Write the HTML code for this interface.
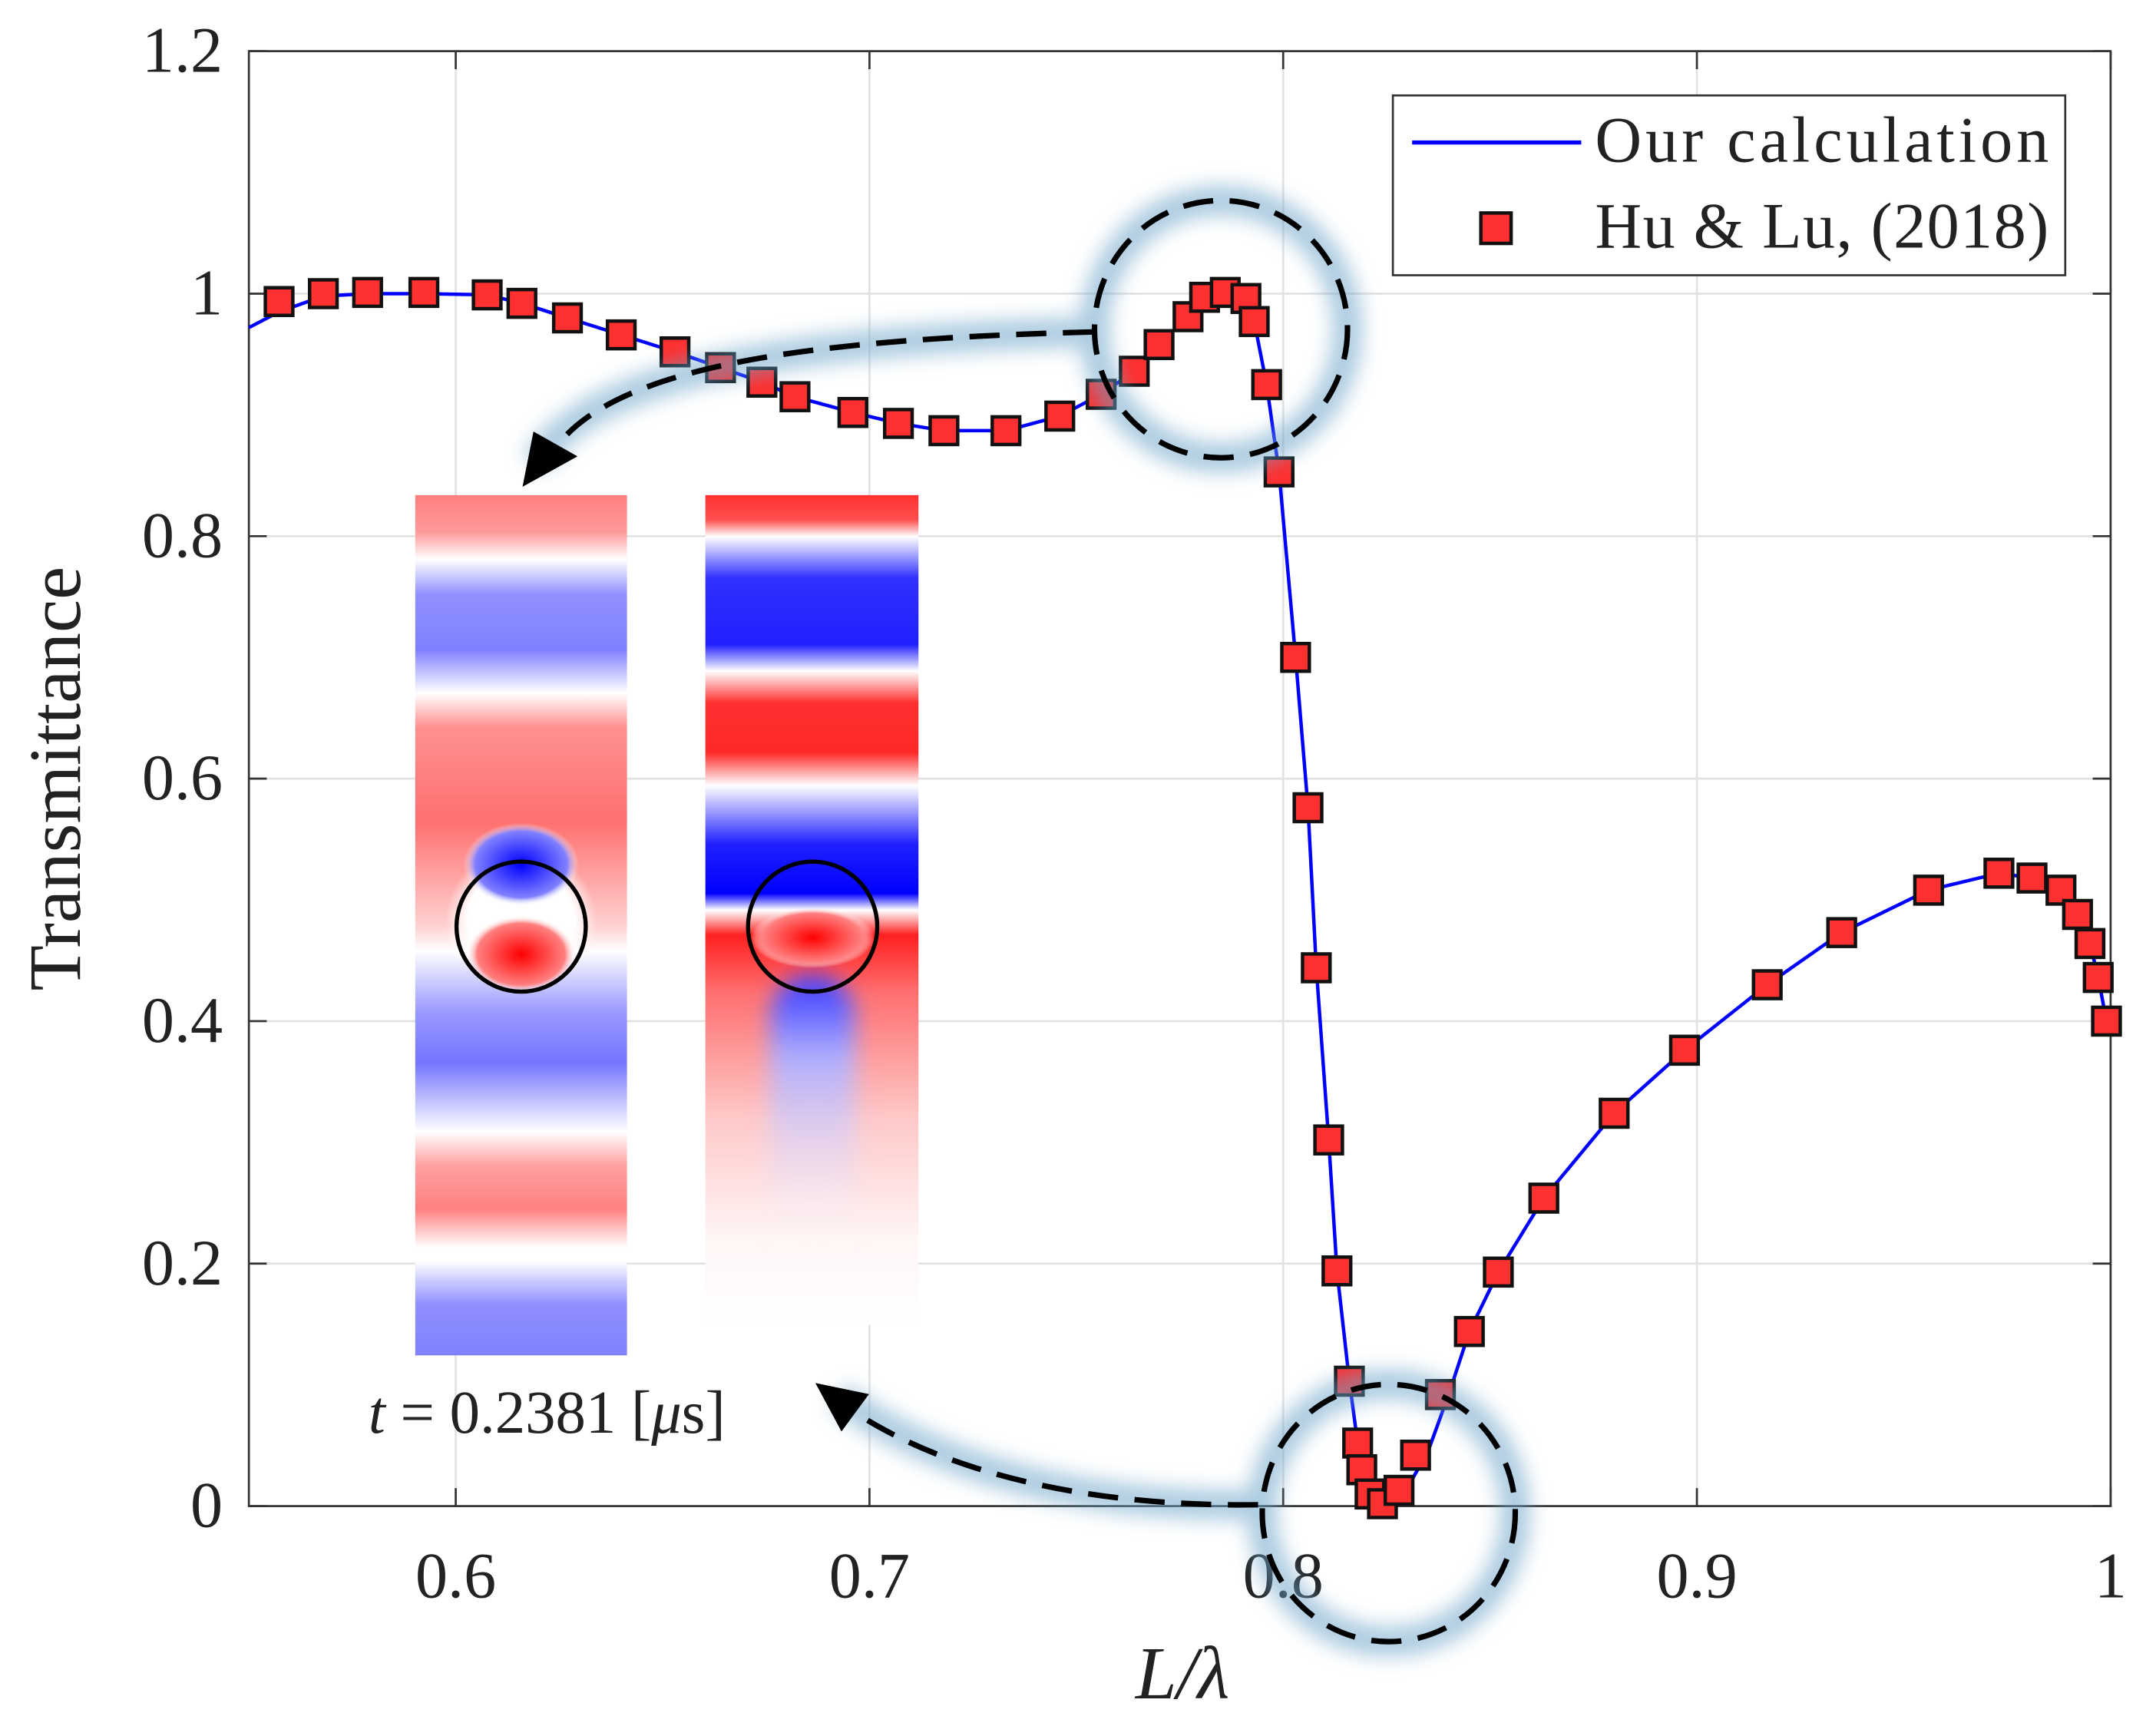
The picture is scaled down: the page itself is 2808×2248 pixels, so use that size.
<!DOCTYPE html>
<html><head><meta charset="utf-8"><style>
html,body{margin:0;padding:0;background:#fff;}
svg{display:block;}
text{font-family:"Liberation Serif",serif;fill:#222;}
</style></head><body>
<svg id="chart" width="2808" height="2248" viewBox="0 0 1568 1248" preserveAspectRatio="none" xmlns="http://www.w3.org/2000/svg">
<defs>
<linearGradient id="gl" x1="0" y1="0" x2="0" y2="1">
<stop offset="0" stop-color="#ff8080"/><stop offset="0.043" stop-color="#ff9a9a"/><stop offset="0.075" stop-color="#fff"/>
<stop offset="0.115" stop-color="#9090ff"/><stop offset="0.18" stop-color="#8080ff"/><stop offset="0.23" stop-color="#fff"/>
<stop offset="0.27" stop-color="#ff9090"/><stop offset="0.38" stop-color="#ff7070"/><stop offset="0.50" stop-color="#ffd0d0"/>
<stop offset="0.53" stop-color="#fff"/><stop offset="0.6" stop-color="#9a9aff"/><stop offset="0.66" stop-color="#7575ff"/>
<stop offset="0.74" stop-color="#fff"/><stop offset="0.78" stop-color="#ffa0a0"/><stop offset="0.83" stop-color="#ff8080"/>
<stop offset="0.875" stop-color="#fff"/><stop offset="0.89" stop-color="#fff"/><stop offset="0.94" stop-color="#9090ff"/><stop offset="1" stop-color="#8080ff"/>
</linearGradient>
<linearGradient id="gr" x1="0" y1="0" x2="0" y2="1">
<stop offset="0" stop-color="#ff3030"/><stop offset="0.03" stop-color="#ff5050"/><stop offset="0.05" stop-color="#fff"/>
<stop offset="0.1" stop-color="#3030ff"/><stop offset="0.18" stop-color="#2020ff"/><stop offset="0.212" stop-color="#fff"/>
<stop offset="0.25" stop-color="#ff3030"/><stop offset="0.31" stop-color="#ff2828"/><stop offset="0.35" stop-color="#fff"/>
<stop offset="0.42" stop-color="#2020ff"/><stop offset="0.48" stop-color="#0000ff"/><stop offset="0.5" stop-color="#fff"/>
<stop offset="0.53" stop-color="#ff2020"/><stop offset="0.6" stop-color="#ff7070"/><stop offset="0.75" stop-color="#ffc8c8"/>
<stop offset="0.9" stop-color="#fff6f6"/><stop offset="1" stop-color="#fff"/>
</linearGradient>
<linearGradient id="gbfade" x1="0" y1="0" x2="0" y2="1">
<stop offset="0" stop-color="#3030ff"/><stop offset="0.3" stop-color="#b0b0ff"/><stop offset="1" stop-color="#fff" stop-opacity="0"/>
</linearGradient>
<radialGradient id="rb"><stop offset="0" stop-color="#0000ff"/><stop offset="0.8" stop-color="#8080ff"/><stop offset="1" stop-color="#fff" stop-opacity="0"/></radialGradient>
<radialGradient id="rr"><stop offset="0" stop-color="#ff0000"/><stop offset="0.8" stop-color="#ff8080"/><stop offset="1" stop-color="#fff" stop-opacity="0"/></radialGradient>
<radialGradient id="rw"><stop offset="0.7" stop-color="#fff"/><stop offset="1" stop-color="#fff" stop-opacity="0"/></radialGradient>
<filter id="glow" x="-30%" y="-30%" width="160%" height="160%"><feGaussianBlur stdDeviation="7"/></filter>
<filter id="soft" x="-50%" y="-20%" width="200%" height="140%"><feGaussianBlur stdDeviation="8"/></filter>
</defs>
<g id="grid"></g>
<rect x="181" y="37" width="1354" height="1052" fill="none" stroke="#333" stroke-width="1.5"/>
<g id="ticks"></g>
<g id="series"></g>

<g>
<g>
<rect x="302" y="358" width="154" height="622" fill="url(#gl)"/>
<ellipse cx="379" cy="665" rx="55" ry="52" fill="url(#rw)"/>
<ellipse cx="379" cy="625" rx="42" ry="30" fill="url(#rb)"/>
<ellipse cx="379" cy="690" rx="40" ry="28" fill="url(#rr)"/>
<ellipse cx="379" cy="670" rx="47" ry="47" fill="none" stroke="#000" stroke-width="3"/>
</g>
<g>
<rect x="513" y="358" width="155" height="600" fill="url(#gr)"/>
<rect x="560" y="705" width="62" height="200" rx="30" fill="url(#gbfade)" filter="url(#soft)"/>
<ellipse cx="591" cy="678" rx="45" ry="22" fill="url(#rr)"/>
<ellipse cx="591" cy="670" rx="47" ry="47" fill="none" stroke="#000" stroke-width="3"/>
</g>
</g>

<g>
<g filter="url(#glow)" stroke="#6aa3c8" stroke-width="22" fill="none" opacity="0.55">
<ellipse cx="888" cy="238" rx="92" ry="93"/>
<ellipse cx="1010" cy="1094" rx="92" ry="93"/>
<path d="M795,240 C600,245 430,265 390,335"/>
<path d="M915,1088 C780,1090 680,1060 610,1010"/>
</g>
<ellipse cx="888" cy="238" rx="92" ry="93" fill="none" stroke="#000" stroke-width="4" stroke-dasharray="22,12"/>
<ellipse cx="1010" cy="1094" rx="92" ry="93" fill="none" stroke="#000" stroke-width="4" stroke-dasharray="22,12"/>
<path d="M795,240 C600,245 440,262 400,330" fill="none" stroke="#000" stroke-width="4" stroke-dasharray="22,12"/>
<polygon points="380,352 388,312 420,330" fill="#000"/>
<path d="M915,1088 C780,1090 680,1060 620,1020" fill="none" stroke="#000" stroke-width="4" stroke-dasharray="22,12"/>
<polygon points="593,1000 632,1008 612,1035" fill="#000"/>
<text x="268" y="1036" font-size="44"><tspan font-style="italic">t</tspan> = 0.2381 [<tspan font-style="italic">μ</tspan>s]</text>
</g>

<g>
<rect x="1013" y="69" width="489" height="130" fill="#fff" stroke="#333" stroke-width="1.5"/>
<line x1="1027" y1="103" x2="1150" y2="103" stroke="#0000ff" stroke-width="3"/>
<text x="1160" y="117" font-size="47" textLength="330">Our calculation</text>
<rect x="1077" y="154" width="22" height="22" fill="#ff3030" stroke="#111" stroke-width="2.5"/>
<text x="1160" y="179" font-size="47" textLength="330">Hu &amp; Lu, (2018)</text>
</g>
<text transform="translate(58,563) rotate(-90)" text-anchor="middle" font-size="54">Transmittance</text>
<text x="860" y="1228" text-anchor="middle" font-size="54" font-style="italic">L/λ</text>
</svg>
<script>
const xTicks=[0.6,0.7,0.8,0.9,1];
const xTickLabels=["0.6","0.7","0.8","0.9","1"];
const yTicks=[0,0.2,0.4,0.6,0.8,1,1.2];
const yTickLabels=["0","0.2","0.4","0.6","0.8","1","1.2"];
const refX=[0.5573,0.568,0.5787,0.5923,0.6076,0.616,0.627,0.640,0.653,0.664,0.674,0.682,0.696,0.707,0.718,0.733,0.746,0.756,0.764,0.770,0.777,0.781,0.786,0.791,0.793,0.796,0.799,0.803,0.806,0.808,0.811,0.813,0.816,0.818,0.819,0.821,0.824,0.828,0.832,0.838,0.845,0.852,0.863,0.880,0.897,0.917,0.935,0.956,0.973,0.981,0.988,0.992,0.995,0.997,0.999];
const refY=[0.9935,1.0,1.001,1.001,0.999,0.992,0.98,0.966,0.952,0.939,0.927,0.915,0.902,0.893,0.887,0.887,0.899,0.917,0.936,0.958,0.981,0.997,1.001,0.996,0.977,0.925,0.853,0.700,0.576,0.444,0.302,0.194,0.103,0.052,0.030,0.010,0.002,0.013,0.042,0.092,0.144,0.193,0.254,0.324,0.376,0.430,0.473,0.508,0.522,0.518,0.508,0.488,0.464,0.436,0.400];
const lineX=[0.55,0.5573,0.568,0.5787,0.5923,0.6076,0.616,0.627,0.640,0.653,0.664,0.674,0.682,0.696,0.707,0.718,0.733,0.746,0.756,0.764,0.770,0.777,0.781,0.786,0.791,0.793,0.796,0.799,0.803,0.806,0.808,0.811,0.813,0.816,0.818,0.820,0.823,0.826,0.830,0.835,0.840,0.845,0.852,0.863,0.880,0.897,0.917,0.935,0.956,0.973,0.981,0.988,0.992,0.995,0.997,0.999];
const lineY=[0.972,0.985,0.998,1.0,1.0,0.999,0.992,0.98,0.966,0.952,0.939,0.927,0.915,0.902,0.893,0.887,0.887,0.899,0.917,0.936,0.958,0.981,0.997,1.001,0.996,0.977,0.925,0.853,0.700,0.576,0.444,0.302,0.194,0.103,0.052,0.020,0.004,0.003,0.015,0.045,0.092,0.144,0.193,0.254,0.324,0.376,0.430,0.473,0.508,0.522,0.518,0.508,0.488,0.464,0.436,0.400];
const NS="http://www.w3.org/2000/svg";
function sx(v){return 181+(v-0.55)/0.45*1354;}
function sy(v){return 1089-v/1.2*1052;}
function mk(t,a,p){const e=document.createElementNS(NS,t);for(const k in a)e.setAttribute(k,a[k]);p.appendChild(e);return e;}
const grid=document.getElementById('grid'),ticks=document.getElementById('ticks'),series=document.getElementById('series');
xTicks.forEach((v,i)=>{
  const g=mk('line',{x1:sx(v),x2:sx(v),y1:37,y2:1089,stroke:'#e2e2e2','stroke-width':1.5},grid);
  
  
  mk('line',{x1:sx(v),x2:sx(v),y1:1089,y2:1076,stroke:'#333','stroke-width':1.5},ticks);
  mk('line',{x1:sx(v),x2:sx(v),y1:37,y2:50,stroke:'#333','stroke-width':1.5},ticks);
  const t=mk('text',{x:sx(v),y:1155,'text-anchor':'middle','font-size':47},ticks);
  t.textContent=xTickLabels[i];
  
  
});
yTicks.forEach((v,i)=>{
  const g=mk('line',{x1:181,x2:1535,y1:sy(v),y2:sy(v),stroke:'#e2e2e2','stroke-width':1.5},grid);
  
  
  mk('line',{x1:181,x2:194,y1:sy(v),y2:sy(v),stroke:'#333','stroke-width':1.5},ticks);
  mk('line',{x1:1522,x2:1535,y1:sy(v),y2:sy(v),stroke:'#333','stroke-width':1.5},ticks);
  const t=mk('text',{x:162,y:sy(v)+15,'text-anchor':'end','font-size':47},ticks);
  t.textContent=yTickLabels[i];
  
  
});
const pl=mk('polyline',{points:lineX.map((x,i)=>sx(x)+','+sy(lineY[i])).join(' '),fill:'none',stroke:'#0000ff','stroke-width':2.5},series);


refX.forEach((x,i)=>{
  const r=mk('rect',{x:sx(x)-10,y:sy(refY[i])-10,width:20,height:20,fill:'#ff3030',stroke:'#111','stroke-width':2.5},series);
  
  
});
</script>
</body></html>
